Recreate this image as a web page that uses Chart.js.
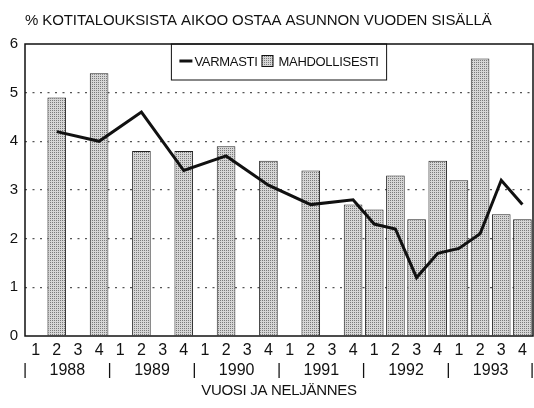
<!DOCTYPE html>
<html>
<head>
<meta charset="utf-8">
<script src="https://cdn.jsdelivr.net/npm/chart.js@4"></script>
<style>
  body { margin: 0; background: #fff; }
  #wrap { width: 534px; height: 408px; }
</style>
</head>
<body>
<div id="wrap"><canvas id="chart" width="534" height="408"></canvas></div>
<script>
// data
const quarters = ['1','2','3','4','1','2','3','4','1','2','3','4','1','2','3','4','1','2','3','4','1','2','3','4']
const years = ['1988','1989','1990','1991','1992','1993']
const varmasti = [null,4.2,null,4.0,null,4.6,null,3.4,null,3.7,null,3.1,null,2.7,null,2.8,2.3,2.2,1.2,1.7,1.8,2.1,3.2,2.7]
const mahdollisesti = [null,4.9,null,5.4,null,3.8,null,3.8,null,3.9,null,3.6,null,3.4,null,2.7,2.6,3.3,2.4,3.6,3.2,5.7,2.5,2.4]
const yTicks = [0,1,2,3,4,5,6]

const titleText = '% KOTITALOUKSISTA AIKOO OSTAA ASUNNON VUODEN SISÄLLÄ'
const xTitle = 'VUOSI JA NELJÄNNES'
const fontFamily = '"Liberation Sans", Arial, sans-serif'

const canvas = document.getElementById('chart')
const ctx = canvas.getContext('2d')

// stippled fill for the bars
function makeStipple() {
  const pc = document.createElement('canvas')
  pc.width = 2
  pc.height = 2
  const p = pc.getContext('2d')
  p.fillStyle = '#d6d6d6'
  p.fillRect(0, 0, 2, 2)
  p.fillStyle = '#7a7a7a'
  p.fillRect(0, 0, 1, 1)
  return ctx.createPattern(pc, 'repeat')
}
const stipple = makeStipple()

// hand drawn legend inside the top of the plot, with a box round it
function drawLegend(c, chart) {
  const a = chart.chartArea
  const ds = chart.data.datasets
  c.font = '13px ' + fontFamily
  c.letterSpacing = '-0.3px'
  const w1 = c.measureText(ds[0].label).width
  const w2 = c.measureText(ds[1].label).width
  const total = 8 + 13 + 2 + w1 + 4 + 12 + 5 + w2 + 8
  let x = (a.left + a.right) / 2 - total / 2
  const top = a.top
  const mid = top + 17
  c.lineWidth = 1
  c.strokeStyle = '#111'
  c.strokeRect(x, top, total, 36)
  x += 8
  c.lineWidth = 3
  c.beginPath()
  c.moveTo(x, mid)
  c.lineTo(x + 13, mid)
  c.stroke()
  x += 15
  c.textAlign = 'left'
  c.fillText(ds[0].label, x, mid + 1)
  x += w1 + 4
  c.fillStyle = stipple
  c.fillRect(x, mid - 6, 12, 12)
  c.lineWidth = 1
  c.strokeRect(x + 0.5, mid - 5.5, 11, 11)
  c.fillStyle = '#111'
  x += 17
  c.fillText(ds[1].label, x, mid + 1)
  c.letterSpacing = '0px'
}

// title, frame, legend, year row, axis title
const decorations = {
  id: 'decorations',
  afterDraw(chart) {
    const c = chart.ctx
    const a = chart.chartArea
    const x = chart.scales.x
    c.save()
    c.fillStyle = '#111'
    c.textBaseline = 'middle'

    // title
    c.font = '15px ' + fontFamily
    c.letterSpacing = '-0.1px'
    c.textAlign = 'left'
    c.fillText(titleText, a.left, 21)
    c.letterSpacing = '0px'

    // frame round the plot
    c.strokeStyle = '#111'
    c.lineWidth = 1.5
    c.strokeRect(a.left, a.top, a.right - a.left, a.bottom - a.top)

    drawLegend(c, chart)

    // year row
    c.font = '16px ' + fontFamily
    c.textAlign = 'center'
    const half = (x.getPixelForValue(1) - x.getPixelForValue(0)) / 2
    years.forEach((yr, i) => {
      const cx = (x.getPixelForValue(i * 4 + 1) + x.getPixelForValue(i * 4 + 2)) / 2
      c.fillText(yr, cx, 371)
      c.fillText('|', x.getPixelForValue(i * 4) - half, 371)
    })
    c.fillText('|', x.getPixelForValue(quarters.length - 1) + half - 1, 371)

    // x axis title
    c.font = '15px ' + fontFamily
    c.letterSpacing = '-0.3px'
    c.fillText(xTitle, (a.left + a.right) / 2, 391)
    c.restore()
  }
}

new Chart(ctx, {
  type: 'bar',
  data: {
    labels: quarters,
    datasets: [
      {
        type: 'line',
        label: 'VARMASTI',
        data: varmasti,
        borderColor: '#111',
        borderWidth: 3,
        pointRadius: 0,
        spanGaps: true,
        tension: 0,
        order: 0
      },
      {
        type: 'bar',
        label: 'MAHDOLLISESTI',
        data: mahdollisesti,
        backgroundColor: stipple,
        borderColor: '#222',
        borderWidth: 1,
        barPercentage: 0.88,
        categoryPercentage: 1,
        order: 1
      }
    ]
  },
  options: {
    responsive: false,
    animation: false,
    layout: { padding: { top: 44, right: 1 } },
    plugins: {
      tooltip: { enabled: false },
      legend: { display: false }
    },
    scales: {
      x: {
        grid: { display: false, drawTicks: false },
        border: { display: false },
        ticks: {
          autoSkip: false,
          maxRotation: 0,
          padding: 5,
          color: '#111',
          font: { family: fontFamily, size: 16 }
        },
        afterFit: scale => { scale.height = 72 }
      },
      y: {
        min: 0,
        max: 6,
        afterBuildTicks: scale => { scale.ticks = yTicks.map(v => ({ value: v })) },
        ticks: {
          padding: 7,
          color: '#111',
          font: { family: fontFamily, size: 15 }
        },
        grid: {
          drawTicks: false,
          lineWidth: 1.2,
          color: c => (c.tick && c.tick.value > 0 && c.tick.value < 6) ? '#555' : 'rgba(0,0,0,0)'
        },
        border: { display: false, dash: [2, 5.5] },
        afterFit: scale => { scale.width = 25 }
      }
    }
  },
  plugins: [decorations]
})
</script>
</body>
</html>
